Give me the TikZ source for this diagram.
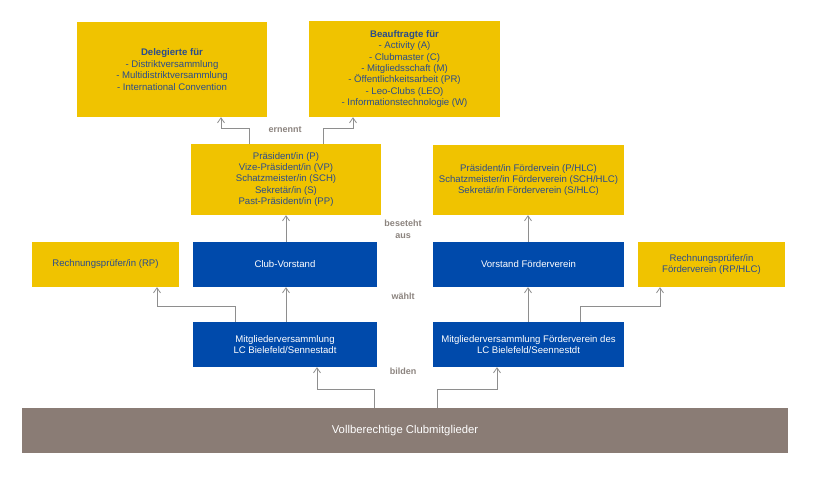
\documentclass[tikz,border=0pt]{standalone}
\usepackage{fontspec}
\setmainfont{Liberation Sans}
\usetikzlibrary{arrows.meta}
\definecolor{lyellow}{HTML}{F0C300}
\definecolor{lblue}{HTML}{004AAB}
\definecolor{lbrown}{HTML}{8A7C75}
\definecolor{ltext}{HTML}{2A4C8C}
\definecolor{llabel}{HTML}{8C847F}
\definecolor{larrow}{HTML}{8E8E8E}
\tikzset{
  ybox/.style={fill=lyellow, draw=none, text=ltext, align=center, inner sep=2pt,
    font=\fontsize{9.6}{11.4}\selectfont},
  bbox/.style={fill=lblue, draw=none, text=white, align=center, inner sep=2pt,
    font=\fontsize{9.6}{11.6}\selectfont},
  brbox/.style={fill=lbrown, draw=none, text=white, align=center,
    font=\fontsize{11.3}{13}\selectfont},
  lbl/.style={text=llabel, align=center, font=\bfseries\fontsize{9}{11.5}\selectfont},
  arr/.style={draw=larrow, line width=0.8pt, -{Straight Barb[length=5pt,width=7pt]}},
}
\begin{document}
\begin{tikzpicture}[x=1pt,y=-1pt]
\useasboundingbox (0,0) rectangle (830,495);
\fill[white] (0,0) rectangle (830,495);
% yellow top boxes
\node[ybox, minimum width=190pt, minimum height=95pt] (deleg) at (172,69.5)
  {\textbf{Delegierte für}\\- Distriktversammlung\\- Multidistriktversammlung\\- International Convention};
\node[ybox, minimum width=191pt, minimum height=96pt] (beauf) at (404.5,69)
  {\textbf{Beauftragte für}\\- Activity (A)\\- Clubmaster (C)\\- Mitgliedsschaft (M)\\- Öffentlichkeitsarbeit (PR)\\- Leo-Clubs (LEO)\\- Informationstechnologie (W)};
\node[ybox, minimum width=190pt, minimum height=71pt] (pres) at (286,179.5)
  {Präsident/in (P)\\Vize-Präsident/in (VP)\\Schatzmeister/in (SCH)\\Sekretär/in (S)\\Past-Präsident/in (PP)};
\node[ybox, minimum width=191pt, minimum height=70pt] (fvp) at (528.5,180)
  {Präsident/in Fördervein (P/HLC)\\Schatzmeister/in Förderverein (SCH/HLC)\\Sekretär/in Förderverein (S/HLC)};
% middle row
\node[ybox, minimum width=147pt, minimum height=45pt] (rp) at (105.5,264.5) {Rechnungsprüfer/in (RP)};
\node[bbox, minimum width=184pt, minimum height=45pt] (cv) at (285,264.5) {Club-Vorstand};
\node[bbox, minimum width=191pt, minimum height=45pt] (vfv) at (528.5,264.5) {Vorstand Förderverein};
\node[ybox, minimum width=147pt, minimum height=45pt] (rph) at (711.5,264.5) {Rechnungsprüfer/in\\Förderverein (RP/HLC)};
% lower row
\node[bbox, minimum width=184pt, minimum height=45pt] (mv) at (285,344.5) {Mitgliederversammlung\\LC Bielefeld/Sennestadt};
\node[bbox, minimum width=191pt, minimum height=45pt] (mvf) at (528.5,344.5) {Mitgliederversammlung Förderverein des\\LC Bielefeld/Seennestdt};
% bottom
\node[brbox, minimum width=766pt, minimum height=45pt] (all) at (405,430.5) {Vollberechtige Clubmitglieder};
% labels
\node[lbl] (l1) at (285,130) {ernennt};
\node[lbl] (l2) at (403,229.5) {beseteht\\aus};
\node[lbl] (l3) at (403,296.5) {wählt};
\node[lbl] (l4) at (403,371) {bilden};
% bend coordinates
\coordinate (a1) at (249,128); \coordinate (a2) at (221,128);
\coordinate (b1) at (323,128); \coordinate (b2) at (353,128);
\coordinate (c1) at (235,306); \coordinate (c2) at (157,306);
\coordinate (d1) at (580,306); \coordinate (d2) at (660,306);
\coordinate (e1) at (374,389); \coordinate (e2) at (317,389);
\coordinate (f1) at (437,389); \coordinate (f2) at (497,389);
\coordinate (v1) at (286,0); \coordinate (v2) at (528,0);
% connectors
\draw[arr] (pres.north -| a1) -- (a1) -- (a2) -- (deleg.south -| a2);
\draw[arr] (pres.north -| b1) -- (b1) -- (b2) -- (beauf.south -| b2);
\draw[arr] (cv.north -| v1) -- (pres.south -| v1);
\draw[arr] (vfv.north -| v2) -- (fvp.south -| v2);
\draw[arr] (mv.north -| v1) -- (cv.south -| v1);
\draw[arr] (mvf.north -| v2) -- (vfv.south -| v2);
\draw[arr] (mv.north -| c1) -- (c1) -- (c2) -- (rp.south -| c2);
\draw[arr] (mvf.north -| d1) -- (d1) -- (d2) -- (rph.south -| d2);
\draw[arr] (all.north -| e1) -- (e1) -- (e2) -- (mv.south -| e2);
\draw[arr] (all.north -| f1) -- (f1) -- (f2) -- (mvf.south -| f2);
\end{tikzpicture}
\end{document}
